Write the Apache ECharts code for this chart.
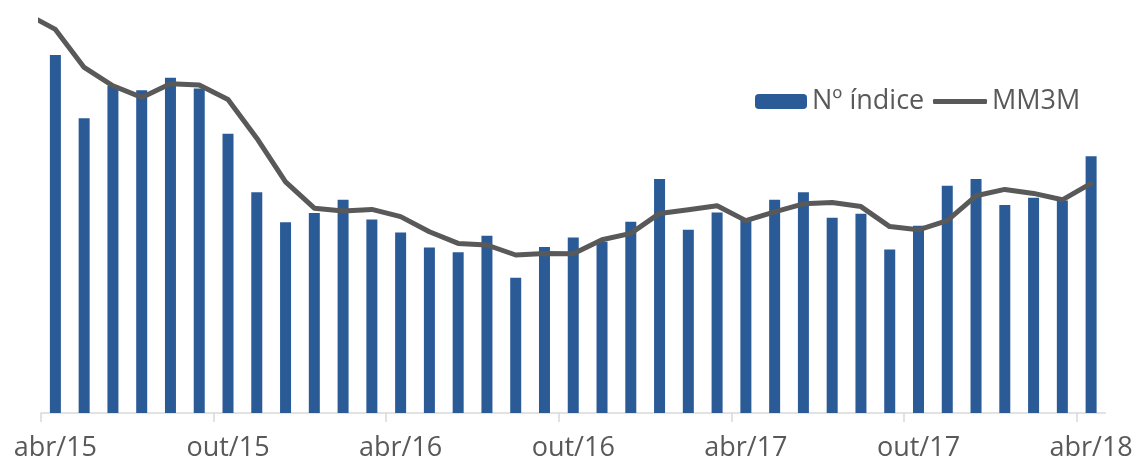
<!DOCTYPE html>
<html>
<head>
<meta charset="utf-8">
<script src="https://cdn.jsdelivr.net/npm/echarts@6/dist/echarts.min.js"></script>
<style>
  html, body { margin: 0; padding: 0; background: #fff; }
  #chart { width: 1140px; height: 469px; }
</style>
</head>
<body>
<div id="chart"></div>
<script>
// meses (abr/15 .. abr/18)
const months = [
  "abr/15", "mai/15", "jun/15", "jul/15", "ago/15", "set/15", "out/15", "nov/15", "dez/15",
  "jan/16", "fev/16", "mar/16", "abr/16", "mai/16", "jun/16", "jul/16", "ago/16", "set/16",
  "out/16", "nov/16", "dez/16", "jan/17", "fev/17", "mar/17", "abr/17", "mai/17", "jun/17",
  "jul/17", "ago/17", "set/17", "out/17", "nov/17", "dez/17", "jan/18", "fev/18", "mar/18",
  "abr/18"
];
// Nº índice
const indexValues = [
  89.5, 73.7, 81.8, 80.7, 83.8, 81.1, 69.8, 55.2, 47.7, 50.0, 53.3, 48.4,
  45.1, 41.4, 40.2, 44.3, 33.8, 41.5, 43.9, 42.8, 47.8, 58.5, 45.8, 50.1,
  48.3, 53.3, 55.2, 48.8, 49.8, 40.9, 46.8, 56.8, 58.5, 52.0, 53.8, 53.1,
  64.2
];
// MM3M, começa em mar/15 (fica cortado à esquerda)
const mm3mValues = [
  99.8, 95.9, 86.4, 81.8, 78.9, 82.3, 82.0, 78.4, 68.7, 57.8, 51.2, 50.5, 50.9,
  49.1, 45.3, 42.4, 42.0, 39.5, 39.9, 39.8, 43.3, 44.9, 49.9, 50.8, 51.8,
  48.1, 50.3, 52.3, 52.6, 51.6, 46.6, 45.8, 48.1, 54.3, 55.9, 54.9, 53.3,
  57.4
];
// posições dos tracinhos do eixo (em meses desde abr/15)
const tickMonths = [0, 6, 12, 18, 24, 30, 36];

const myChart = echarts.init(document.getElementById("chart"));
const font = "Open Sans";
const textColor = "#595959";

const option = {
  animation: false,
  grid: { left: 41, right: 34.5, top: 5, bottom: 56 },
  legend: [
    {
      data: ["Nº índice"],
      left: 750,
      top: 83,
      itemWidth: 52,
      itemHeight: 15,
      textStyle: { fontFamily: font, fontSize: 27, color: textColor },
    },
    {
      data: [{ name: "MM3M", icon: "roundRect" }],
      left: 928,
      top: 83,
      itemWidth: 54,
      itemHeight: 5,
      textStyle: { fontFamily: font, fontSize: 27, color: textColor },
    },
  ],
  xAxis: [
    {
      type: "category",
      data: months,
      boundaryGap: true,
      axisLine: { show: true, lineStyle: { color: "#d9d9d9", width: 1.5 } },
      axisTick: { show: false },
      axisLabel: {
        interval: 5,
        margin: 22,
        fontFamily: font,
        fontSize: 27,
        color: textColor,
      },
      splitLine: { show: false },
    },
    {
      type: "value",
      position: "bottom",
      min: 0,
      max: months.length,
      interval: 6,
      axisLine: { show: false },
      axisTick: {
        show: true,
        customValues: tickMonths,
        length: 9,
        lineStyle: { color: "#d9d9d9", width: 1.5 },
      },
      axisLabel: { show: false },
      splitLine: { show: false },
    },
  ],
  yAxis: {
    type: "value",
    min: 0,
    max: 102,
    show: false,
  },
  series: [
    {
      name: "Nº índice",
      type: "bar",
      xAxisIndex: 0,
      barWidth: 11,
      itemStyle: { color: "#2b5b97" },
      data: indexValues,
    },
    {
      name: "MM3M",
      type: "line",
      xAxisIndex: 1,
      symbol: "none",
      clip: true,
      lineStyle: { color: "#595959", width: 5, join: "round", cap: "round" },
      itemStyle: { color: "#595959" },
      data: mm3mValues.map((v, i) => [i - 0.5, v]),
    },
  ],
};
myChart.setOption(option);
</script>
</body>
</html>
